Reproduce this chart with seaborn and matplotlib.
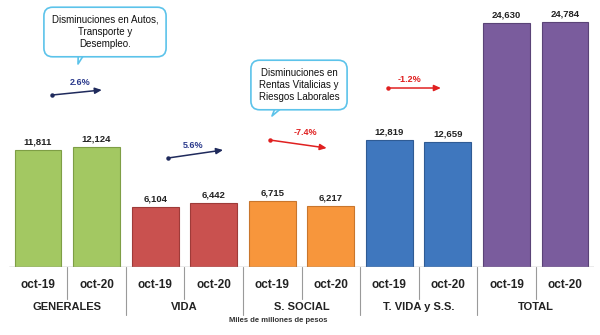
import matplotlib
matplotlib.use("Agg")
import matplotlib.pyplot as plt
import seaborn as sns
import pandas as pd

# data (miles de millones de pesos)
groups = ["GENERALES", "VIDA", "S. SOCIAL", "T. VIDA y S.S.", "TOTAL"]
periods = ["oct-19", "oct-20"]
values_oct19 = [11811, 6104, 6715, 12819, 24630]
values_oct20 = [12124, 6442, 6217, 12659, 24784]
changes = ["2.6%", "5.6%", "-7.4%", "-1.2%"]
group_colors = ["#A3C862", "#C9514F", "#F7963C", "#3F77BE", "#7A5C9D"]
edge_colors = ["#7E9E45", "#9E3B39", "#C9762C", "#2F5B94", "#5A4377"]

rows = []
for g, a, b in zip(groups, values_oct19, values_oct20):
    rows.append((g, periods[0], a))
    rows.append((g, periods[1], b))
df = pd.DataFrame(rows, columns=["grupo", "periodo", "valor"])
df["pos"] = [f"{g}|{p}" for g, p in zip(df["grupo"], df["periodo"])]
bar_colors = [c for c in group_colors for _ in periods]
bar_edges = [c for c in edge_colors for _ in periods]

sns.set_style("white")
plt.rcParams["font.family"] = ["Liberation Sans", "DejaVu Sans"]

fig = plt.figure(figsize=(6, 3.35), dpi=100)
ax = fig.add_axes([0.0145, 0.203, 0.976, 0.797])

sns.barplot(data=df, x="pos", y="valor", hue="pos", palette=bar_colors,
            legend=False, width=0.8, ax=ax, saturation=1)
for patch, ec in zip(ax.patches, bar_edges):
    patch.set_edgecolor(ec)
    patch.set_linewidth(0.8)

ax.set_ylim(0, 27000)
ax.set_xlim(-0.5, len(df) - 0.5)
ax.set_yticks([])
ax.set_xlabel("")
ax.set_ylabel("")
for s in ax.spines.values():
    s.set_visible(False)
ax.axhline(0, color="#9a9a9a", lw=1)

# value labels
for i, v in enumerate(df["valor"]):
    ax.text(i, v + 350, f"{v:,}", ha="center", va="bottom",
            fontsize=6.8, fontweight="bold", color="#222222")

# category axis: periods, groups, separators
ax.set_xticks(range(len(df)))
ax.set_xticklabels(df["periodo"], fontsize=8.5, fontweight="bold", color="#222222")
ax.tick_params(axis="x", length=0, pad=9)
trans = ax.get_xaxis_transform()
for k, g in enumerate(groups):
    ax.text(2 * k + 0.5, -0.15, g, transform=trans, ha="center", va="center",
            fontsize=8, fontweight="bold", color="#222222")
    ax.plot([2 * k + 0.5] * 2, [0, -0.12], transform=trans, color="#9a9a9a",
            lw=0.8, clip_on=False)
    if k > 0:
        ax.plot([2 * k - 0.5] * 2, [0, -0.18], transform=trans, color="#9a9a9a",
                lw=0.8, clip_on=False)
ax.text(4.1, -0.2, "Miles de millones de pesos", transform=trans, ha="center",
        va="center", fontsize=5.5, fontweight="bold", color="#333333")

# growth arrows
arrow_specs = [
    ((0.24, 17390), (1.09, 17900), (0.72, 18700), "#1F2A5C"),
    ((2.22, 11020), (3.16, 11830), (2.65, 12330), "#1F2A5C"),
    ((3.96, 12840), (4.93, 12030), (4.56, 13650), "#E02020"),
    ((5.97, 18100), (6.88, 18100), (6.34, 19000), "#E02020"),
]
for (start, end, lab, col), txt in zip(arrow_specs, changes):
    ax.annotate("", xy=end, xytext=start,
                arrowprops=dict(arrowstyle="-|>,head_length=0.4,head_width=0.18",
                                color=col, lw=1.1, shrinkA=0, shrinkB=0))
    ax.plot(*start, marker="o", ms=2.2, color=col)
    ax.text(*lab, txt, ha="center", va="center", fontsize=6.5,
            fontweight="bold", color="#2B3A8C" if col.startswith("#1F") else col)

# callouts
callouts = [
    ("Disminuciones en Autos,\nTransporte y\nDesempleo.", (105, 32), (78, 64)),
    ("Disminuciones en\nRentas Vitalicias y\nRiesgos Laborales", (299, 85), (272, 116)),
]
for text, (tx, ty), (px, py) in callouts:
    ax.annotate(text, xy=(px / 600, 1 - py / 335), xycoords="figure fraction",
                xytext=(tx / 600, 1 - ty / 335), textcoords="figure fraction",
                ha="center", va="center", fontsize=7, color="#111111",
                linespacing=1.25,
                bbox=dict(boxstyle="round,pad=0.8,rounding_size=0.9",
                          fc="white", ec="#5CC3EA", lw=1.2),
                arrowprops=dict(arrowstyle="wedge,tail_width=0.9", fc="white",
                                ec="#5CC3EA", lw=1.2, relpos=(0.29, 0.0),
                                patchA=None, shrinkA=0, shrinkB=0))

fig.savefig("out.png", dpi=100)
